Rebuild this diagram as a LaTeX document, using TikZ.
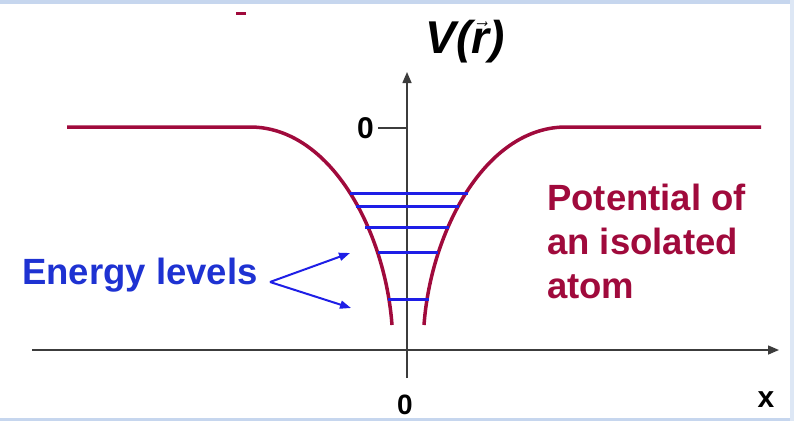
\documentclass[tikz,border=0pt]{standalone}
\usepackage{fontspec}
\setmainfont{Liberation Sans}
\usetikzlibrary{arrows.meta}
\definecolor{maroon}{RGB}{160,10,60}
\definecolor{lvlblue}{RGB}{30,30,230}
\definecolor{txtblue}{RGB}{30,50,210}
\definecolor{band}{RGB}{198,214,238}
\definecolor{axisgray}{RGB}{60,60,60}
\begin{document}
\begin{tikzpicture}[x=1pt,y=-1pt,
  axis/.style={draw=axisgray,line width=1.5pt},
  axisarrow/.style={axis,-{Triangle[length=11pt,width=9pt]}},
  potline/.style={draw=maroon,line width=3.5pt},
  level/.style={draw=lvlblue,line width=3pt},
  pointer/.style={draw=lvlblue,line width=2pt,-{Triangle[length=11pt,width=8pt]}},
  lbl/.style={inner sep=0pt,font=\bfseries\fontsize{30}{34}\selectfont},
  bigtxt/.style={inner sep=0pt,font=\bfseries\fontsize{36.5}{44}\selectfont}]
\useasboundingbox (0,0) rectangle (794,421);
\fill[band] (0,0) rectangle (794,4);
\fill[band] (0,418) rectangle (794,421);
\fill[band!60!white] (790,0) rectangle (794,421);
% small dash at top
\draw[maroon,line width=3pt] (236,13) -- (246,13);
% axes
\coordinate (xa0) at (32,350);
\coordinate (xa1) at (779,350);
\coordinate (ya0) at (407,378);
\coordinate (ya1) at (407,72);
\draw[axisarrow] (xa0) -- (xa1);
\draw[axisarrow] (ya0) -- (ya1);
\coordinate (tick0) at (378,128);
\coordinate (tick1) at (407,128);
\draw[axis] (tick0) -- (tick1);
% labels
\node[lbl,anchor=east] (zerotop) at (374,128) {0};
\node[lbl,font=\bfseries\fontsize{28}{32}\selectfont] (zerobot) at (405,405) {0};
\node[lbl] (xlab) at (766,400) {x};
\node[inner sep=0pt,font=\bfseries\itshape\fontsize{46}{50}\selectfont] (vlab) at (465,42) {V(\ensuremath{\vec{\mbox{r}}})};
% potential curve
\draw[potline,line cap=butt] (67,127) -- (250,127) .. controls (330,127) and (385,230) .. (392,325);
\draw[potline,line cap=butt] (761,127) -- (566,127) .. controls (486,127) and (431,230) .. (424,325);
% energy levels
\foreach \y/\a/\b in {193/350/468, 206/356/459, 227/365/449, 252/378/438, 299/388/429}{
  \draw[level] (\a,\y) -- (\b,\y);
}
% energy levels label
\node[bigtxt,text=txtblue,anchor=base west] (el) at (22,284) {Energy levels};
\coordinate (elfrom) at (270,282);
\coordinate (elto1) at (350,253);
\coordinate (elto2) at (351,308);
\draw[pointer] (elfrom) -- (elto1);
\draw[pointer] (elfrom) -- (elto2);
% potential label
\node[bigtxt,text=maroon,anchor=north west,align=left] (pot) at (547,184) {Potential of\\an isolated\\atom};
\end{tikzpicture}
\end{document}
